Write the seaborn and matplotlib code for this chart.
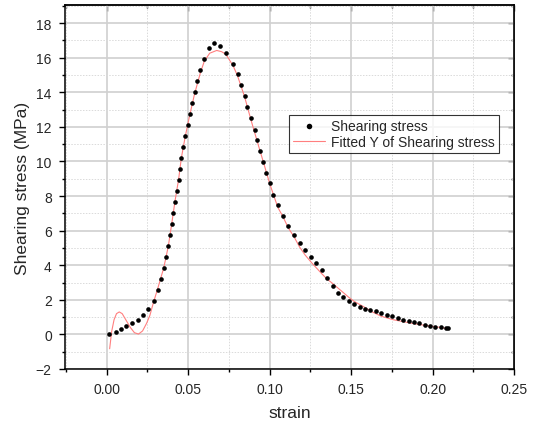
import matplotlib
matplotlib.use("Agg")
import matplotlib.pyplot as plt
import seaborn as sns
import pandas as pd
from matplotlib.ticker import MultipleLocator

# measured points (strain, shearing stress in MPa)
strain = [
    0.0015, 0.0055, 0.0088, 0.0120, 0.0155, 0.0190, 0.0223, 0.0255, 0.0290,
    0.0313, 0.0335, 0.0350, 0.0366, 0.0378, 0.0388, 0.0399, 0.0409, 0.0419,
    0.0430, 0.0441, 0.0449, 0.0458, 0.0469, 0.0482, 0.0496, 0.0510, 0.0522,
    0.0539, 0.0557, 0.0574, 0.0596, 0.0629, 0.0661, 0.0696, 0.0731, 0.0775,
    0.0803, 0.0826, 0.0846, 0.0864, 0.0884, 0.0908, 0.0924, 0.0942, 0.0962,
    0.0980, 0.1001, 0.1022, 0.1050, 0.1082, 0.1115, 0.1149, 0.1184, 0.1217,
    0.1251, 0.1284, 0.1319, 0.1352, 0.1386, 0.1417, 0.1452, 0.1485, 0.1517,
    0.1552, 0.1585, 0.1617, 0.1650, 0.1685, 0.1718, 0.1752, 0.1785, 0.1818,
    0.1853, 0.1885, 0.1918, 0.1953, 0.1985, 0.2018, 0.2053, 0.2083, 0.2096,
]
stress = [
    0.04, 0.16, 0.31, 0.46, 0.64, 0.81, 1.10, 1.49, 1.93,
    2.59, 3.21, 3.82, 4.46, 5.10, 5.74, 6.37, 7.03, 7.65,
    8.28, 8.95, 9.58, 10.22, 10.83, 11.47, 12.09, 12.75, 13.38,
    14.00, 14.64, 15.28, 15.92, 16.55, 16.88, 16.69, 16.25, 15.64,
    15.03, 14.41, 13.79, 13.13, 12.50, 11.82, 11.22, 10.60, 9.99,
    9.35, 8.73, 8.09, 7.46, 6.84, 6.26, 5.76, 5.31, 4.89,
    4.48, 4.11, 3.71, 3.27, 2.80, 2.41, 2.15, 1.95, 1.76,
    1.56, 1.49, 1.41, 1.33, 1.24, 1.14, 1.04, 0.93, 0.85,
    0.78, 0.70, 0.64, 0.56, 0.50, 0.45, 0.41, 0.37, 0.37,
]

# fitted curve
fit_strain = [
    0.0018, 0.0030, 0.0045, 0.0060, 0.0077, 0.0095, 0.0120, 0.0145, 0.0170,
    0.0195, 0.0220, 0.0245, 0.0265, 0.0286, 0.0313, 0.0350, 0.0378, 0.0399,
    0.0419, 0.0441, 0.0458, 0.0482, 0.0510, 0.0539, 0.0574, 0.0599, 0.0632,
    0.0675, 0.0705, 0.0731, 0.0775, 0.0803, 0.0846, 0.0884, 0.0924, 0.0962,
    0.1001, 0.1050, 0.1082, 0.1115, 0.1150, 0.1184, 0.1217, 0.1258, 0.1319,
    0.1352, 0.1386, 0.1417, 0.1452, 0.1485, 0.1520, 0.1574, 0.1630, 0.1685,
    0.1758, 0.1830, 0.1900, 0.1970, 0.2035, 0.2096,
]
fit_stress = [
    -0.83, 0.15, 0.85, 1.20, 1.30, 1.20, 0.80, 0.40, 0.10,
    0.02, 0.20, 0.65, 1.10, 1.82, 2.65, 3.85, 5.10, 6.40,
    7.70, 8.95, 10.20, 11.45, 12.70, 13.90, 15.10, 15.80, 16.26,
    16.42, 16.35, 16.20, 15.55, 14.95, 13.75, 12.45, 11.15, 9.95,
    8.70, 7.35, 6.80, 6.15, 5.64, 5.05, 4.60, 4.14, 3.52,
    3.20, 2.95, 2.70, 2.42, 2.15, 1.90, 1.62, 1.30, 1.05,
    0.85, 0.72, 0.60, 0.50, 0.42, 0.33,
]

pts = pd.DataFrame({"strain": strain, "stress": stress})
fit = pd.DataFrame({"strain": fit_strain, "stress": fit_stress})

sns.set_style("white")
plt.rcParams["font.family"] = ["Liberation Sans", "DejaVu Sans"]

fig = plt.figure(figsize=(5.36, 4.27), dpi=100)
ax = fig.add_axes([0.1213, 0.1335, 0.8377, 0.8525])

sns.scatterplot(data=pts, x="strain", y="stress", ax=ax, color="black",
                s=11, linewidth=0, label="Shearing stress", zorder=3)
sns.lineplot(data=fit, x="strain", y="stress", ax=ax, color="#ff7f7f",
             linewidth=0.8, sort=False, estimator=None,
             label="Fitted Y of Shearing stress", zorder=2)

ax.set_xlim(-0.0256, 0.25)
ax.set_ylim(-2, 19.05)
ax.xaxis.set_major_locator(MultipleLocator(0.05))
ax.xaxis.set_minor_locator(MultipleLocator(0.025))
ax.yaxis.set_major_locator(MultipleLocator(2))
ax.yaxis.set_minor_locator(MultipleLocator(1))
ax.set_xticklabels([f"{v:.2f}" for v in ax.get_xticks()])

ax.grid(which="major", color="#d0d0d0", linewidth=1.2, linestyle="-")
ax.grid(which="minor", color="#dadada", linewidth=0.7, linestyle=(0, (1.5, 1.5)))
ax.set_axisbelow(True)

for sp in ax.spines.values():
    sp.set_color("black")
    sp.set_linewidth(1.1)

ax.tick_params(which="both", color="black", width=1.0)
ax.tick_params(which="major", length=4.5, labelsize=10, pad=5)
ax.tick_params(which="minor", length=2.5)
ax.tick_params(which="both", axis="x", direction="out", bottom=True, top=False)
ax.tick_params(which="both", axis="y", direction="out", left=True, right=False)
# inward ticks on the mirrored axes
sec_x = ax.secondary_xaxis("top")
sec_x.xaxis.set_major_locator(MultipleLocator(0.05))
sec_x.xaxis.set_minor_locator(MultipleLocator(0.025))
sec_x.tick_params(which="both", direction="in", labeltop=False, width=1.0)
sec_x.tick_params(which="major", length=4.5)
sec_x.tick_params(which="minor", length=2.5)
sec_x.spines["top"].set_linewidth(1.1)
sec_y = ax.secondary_yaxis("right")
sec_y.yaxis.set_major_locator(MultipleLocator(2))
sec_y.yaxis.set_minor_locator(MultipleLocator(1))
sec_y.tick_params(which="both", direction="in", labelright=False, width=1.0)
sec_y.tick_params(which="major", length=4.5)
sec_y.tick_params(which="minor", length=2.5)
sec_y.spines["right"].set_linewidth(1.1)

ax.set_xlabel("strain", fontsize=12.5, labelpad=6)
ax.set_ylabel("Shearing stress (MPa)", fontsize=12.5, labelpad=4)

leg = ax.legend(loc="upper left", bbox_to_anchor=(0.499, 0.698),
                borderaxespad=0, fontsize=10, frameon=True, fancybox=False,
                handlelength=2.3, handletextpad=0.4, borderpad=0.3,
                labelspacing=0.15, markerscale=1.2)
leg.get_frame().set_edgecolor("black")
leg.get_frame().set_linewidth(0.8)

fig.savefig("out.png", dpi=100)
